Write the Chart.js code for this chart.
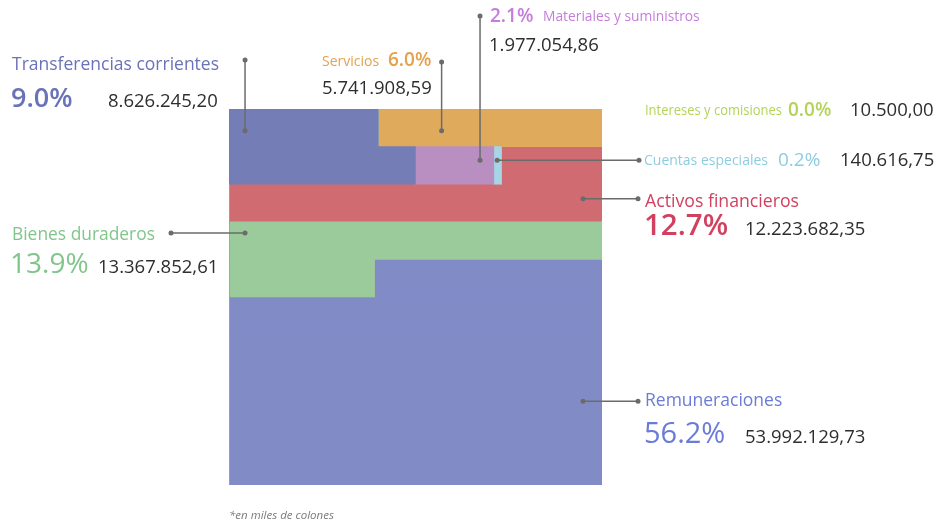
<!DOCTYPE html>
<html>
<head>
<meta charset="utf-8">
<script src="https://cdn.jsdelivr.net/npm/chart.js@4"></script>
<style>
  html, body { margin: 0; padding: 0; background: #fff; }
  #wrap { width: 941px; height: 523px; position: relative; }
</style>
</head>
<body>
<div id="wrap"><canvas id="gasto"></canvas></div>
<script>
// budget categories, share of total (%) and amount in thousands of colones
var categories = ['Transferencias corrientes', 'Servicios', 'Materiales y suministros',
  'Intereses y comisiones', 'Cuentas especiales', 'Activos financieros',
  'Bienes duraderos', 'Remuneraciones'];
var shares = [9.0, 6.0, 2.1, 0.0, 0.2, 12.7, 13.9, 56.2];
var amounts = ['8.626.245,20', '5.741.908,59', '1.977.054,86', '10.500,00',
  '140.616,75', '12.223.682,35', '13.367.852,61', '53.992.129,73'];

// how each share is spread over the 10 rows of the square (10 units per row, top row first)
var rowSplit = [
  [4.0, 5.0],                                   // Transferencias
  [6.0],                                        // Servicios
  [0, 2.1],                                     // Materiales
  [],                                           // Intereses
  [0, 0.2],                                     // Cuentas especiales
  [0, 2.7, 10],                                 // Activos
  [0, 0, 0, 10, 3.9],                           // Bienes duraderos
  [0, 0, 0, 0, 6.2, 10, 10, 10, 10, 10]         // Remuneraciones
];
var rows = ['f1', 'f2', 'f3', 'f4', 'f5', 'f6', 'f7', 'f8', 'f9', 'f10'];

// left-to-right order inside each row
var stackOrder = [0, 6, 2, 4, 3, 1, 5, 7];

var fills = ['#747db6', '#e0aa5d', '#b98ec0', '#b8d45a', '#a6d5e5', '#d06b71', '#9bcb9b', '#818cc7'];
var inks  = ['#6a72b8', '#e3a24e', '#c57ddb', '#b5d35a', '#8dcde1', '#d2405f', '#80c68b', '#6a7bd8'];

// leader lines: anchor inside the square (x in units, y in rows), free end in px
var leaders = [
  { cat: 0, ax: 0.43, ay: 0.58, ex: null, ey: 60 },
  { cat: 1, ax: 5.7,  ay: 0.58, ex: null, ey: 62 },
  { cat: 2, ax: 6.73, ay: 1.36, ex: null, ey: 16 },
  { cat: 4, ax: 7.19, ay: 1.36, ex: 639, ey: null },
  { cat: 5, ax: 9.49, ay: 2.39, ex: 638, ey: null },
  { cat: 6, ax: 0.43, ay: 3.3,  ex: 171, ey: null },
  { cat: 7, ax: 9.49, ay: 7.77, ex: 638, ey: null }
];

var FONT = '"Open Sans", sans-serif';
var DARK = '#2e2e2e';

function pct(i) { return shares[i].toFixed(1) + '%'; }

// text runs: [text, x, baseline, size, weight, color, maxWidth]
var texts = [
  [categories[0], 12, 69.5, 17.5, 400, inks[0]],
  [pct(0), 11, 107, 27, 600, inks[0]],
  [amounts[0], 108, 107, 18.5, 400, DARK],

  [categories[1], 322, 66, 14, 400, inks[1]],
  [pct(1), 388, 66, 19, 600, inks[1]],
  [amounts[1], 322, 94, 18.5, 400, DARK],

  [pct(2), 490, 21.5, 19, 600, inks[2]],
  [categories[2], 543, 21, 13.8, 400, inks[2]],
  [amounts[2], 489, 51, 18.5, 400, DARK],

  [categories[3], 645, 114.5, 14, 400, inks[3], 137],
  [pct(3), 788, 115.5, 19, 600, inks[3]],
  [amounts[3], 850, 115.5, 18.5, 400, DARK],

  [categories[4], 644, 165, 14, 400, inks[4]],
  [pct(4), 778, 165.5, 19, 500, inks[4]],
  [amounts[4], 840, 165.5, 18.5, 400, DARK],

  [categories[5], 645, 206.5, 17.7, 400, inks[5]],
  [pct(5), 644, 235, 29.5, 600, inks[5]],
  [amounts[5], 745, 235, 18.5, 400, DARK],

  [categories[6], 12, 240, 17.4, 400, inks[6]],
  [pct(6), 10, 273, 28, 500, inks[6]],
  [amounts[6], 98, 273, 18.5, 400, DARK],

  [categories[7], 645, 406, 17.5, 400, inks[7]],
  [pct(7), 644, 443, 29, 500, inks[7]],
  [amounts[7], 745, 443, 18.5, 400, DARK]
];

var calloutPlugin = {
  id: 'callouts',
  afterDatasetsDraw: function(chart) {
    var ctx = chart.ctx;
    var area = chart.chartArea;
    var xs = chart.scales.x;
    var rowH = area.height / rows.length;

    ctx.save();
    ctx.strokeStyle = '#6b6b6b';
    ctx.fillStyle = '#6b6b6b';
    ctx.lineWidth = 1.5;
    leaders.forEach(function(l) {
      var x0 = xs.getPixelForValue(l.ax);
      var y0 = area.top + l.ay * rowH;
      var x1 = l.ex === null ? x0 : l.ex;
      var y1 = l.ey === null ? y0 : l.ey;
      ctx.beginPath();
      ctx.moveTo(x0, y0);
      ctx.lineTo(x1, y1);
      ctx.stroke();
      [[x0, y0], [x1, y1]].forEach(function(p) {
        ctx.beginPath();
        ctx.arc(p[0], p[1], 2.5, 0, Math.PI * 2);
        ctx.fill();
      });
    });

    ctx.textBaseline = 'alphabetic';
    ctx.textAlign = 'left';
    texts.forEach(function(t) {
      ctx.font = t[4] + ' ' + t[3] + 'px ' + FONT;
      ctx.fillStyle = t[5];
      if (t[6]) ctx.fillText(t[0], t[1], t[2], t[6]);
      else ctx.fillText(t[0], t[1], t[2]);
    });

    ctx.font = 'italic 11.5px ' + FONT;
    ctx.fillStyle = '#7a7a7a';
    ctx.fillText('*en miles de colones', 229, 519);
    ctx.restore();
  }
};

var datasets = stackOrder.map(function(i) {
  var data = rows.map(function(r, k) { return rowSplit[i][k] || 0; });
  return {
    label: categories[i],
    data: data,
    backgroundColor: fills[i],
    borderWidth: 0,
    barPercentage: 1,
    categoryPercentage: 1
  };
});

new Chart(document.getElementById('gasto'), {
  type: 'bar',
  data: { labels: rows, datasets: datasets },
  options: {
    indexAxis: 'y',
    responsive: true,
    maintainAspectRatio: false,
    animation: false,
    layout: { padding: { left: 229, right: 339, top: 109, bottom: 38 } },
    scales: {
      x: { stacked: true, min: 0, max: 10, display: false },
      y: { stacked: true, display: false }
    },
    plugins: {
      legend: { display: false },
      tooltip: { enabled: false }
    }
  },
  plugins: [calloutPlugin]
});
</script>
</body>
</html>
